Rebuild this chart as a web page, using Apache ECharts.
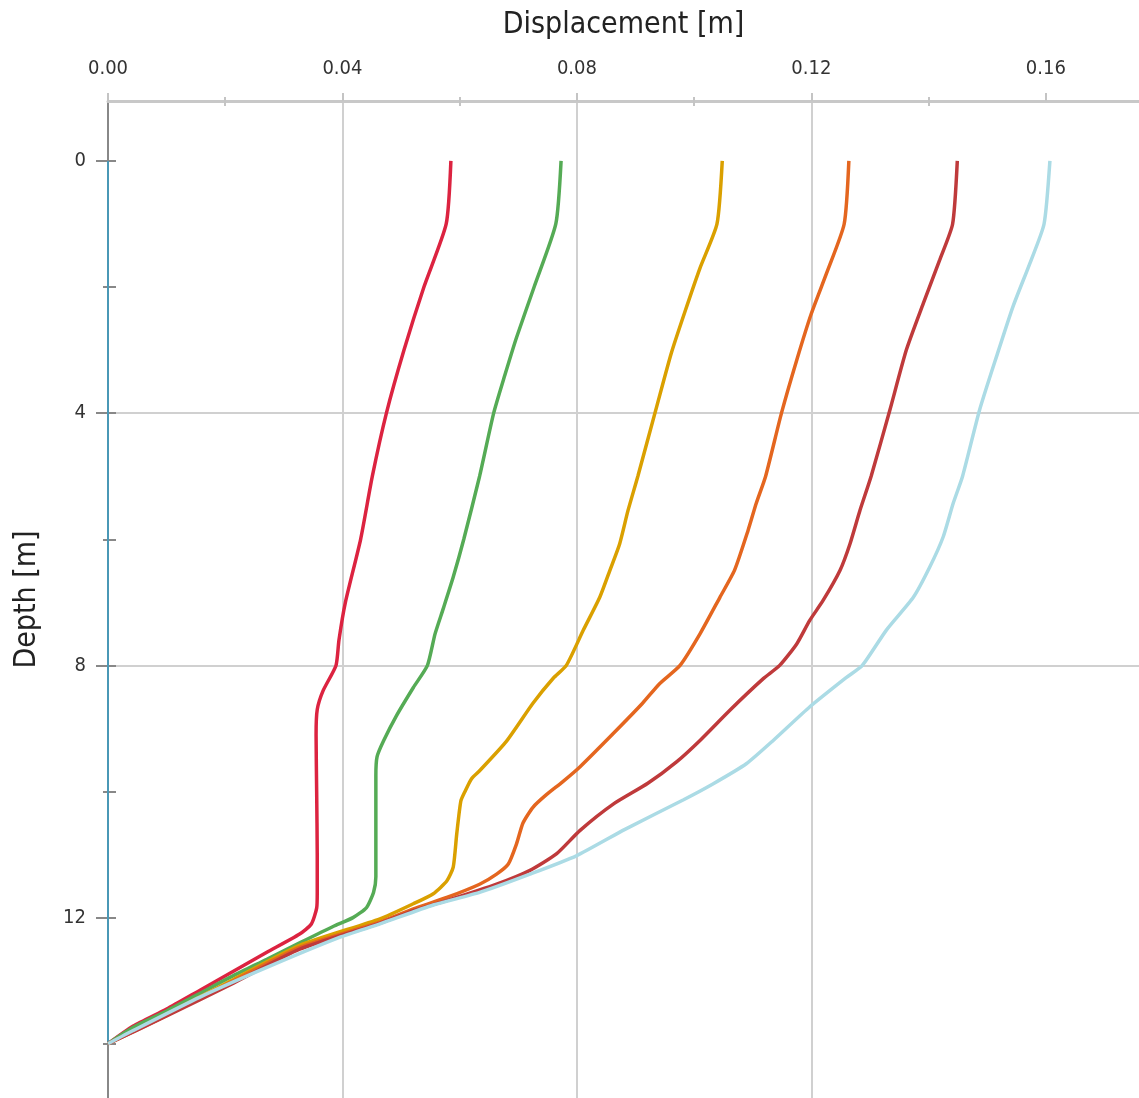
<!DOCTYPE html>
<html>
<head>
<meta charset="utf-8">
<script src="https://cdn.jsdelivr.net/npm/echarts@6/dist/echarts.min.js"></script>
<style>
  html, body { margin: 0; padding: 0; background: #fff; }
  #chart { width: 1139px; height: 1098px; }
</style>
</head>
<body>
<div id="chart"></div>
<script>
// tick positions
var xMajorTicks = [0, 0.04, 0.08, 0.12, 0.16];
var xMinorTicks = [0.02, 0.06, 0.10, 0.14];
var yMajorTicks = [0, 4, 8, 12];
var yMinorTicks = [2, 6, 10, 14];

// reference line at zero displacement
var baseDepth = [0, 14];
var baseDisp = [0, 0];

// stage 1 (red)
var depth1 = [0, 1, 2, 3, 4, 5, 6, 7, 7.6, 8, 8.4, 8.7, 9.1, 10, 11, 11.6, 11.85, 12.1, 12.26, 12.55, 12.85, 13.15, 13.45, 13.72, 14];
var disp1 = [0.0585, 0.0577, 0.0539, 0.0505, 0.0475, 0.0451, 0.0431, 0.0405, 0.0394, 0.0389, 0.0367, 0.0357, 0.0355, 0.0356, 0.0357, 0.0357, 0.0356, 0.0347, 0.0327, 0.0271, 0.0214, 0.0157, 0.0100, 0.0043, 0];

// stage 2 (green)
var depth2 = [0, 1, 2, 2.8, 3.4, 4, 5, 6, 6.6, 7.1, 7.5, 8, 8.35, 8.8, 9.2, 9.45, 9.75, 10.2, 11.35, 11.6, 11.84, 12.0, 12.14, 12.4, 12.66, 12.92, 13.2, 13.48, 13.74, 14];
var disp2 = [0.0773, 0.0764, 0.0727, 0.0697, 0.0677, 0.0658, 0.0634, 0.0607, 0.0589, 0.0572, 0.0558, 0.0545, 0.0521, 0.0492, 0.0470, 0.0459, 0.0457, 0.0457, 0.0457, 0.0453, 0.0441, 0.0418, 0.0384, 0.0327, 0.0271, 0.0214, 0.0157, 0.0100, 0.0043, 0];

// stage 3 (gold)
var depth3 = [0, 1, 1.7, 2.4, 3.05, 3.9, 5, 5.55, 6.07, 6.5, 6.92, 7.44, 8, 8.2, 8.6, 9.2, 9.67, 9.8, 10, 10.15, 10.67, 11.2, 11.42, 11.62, 11.78, 12.02, 12.44, 12.98, 13.53, 14];
var disp3 = [0.1048, 0.1039, 0.1010, 0.0984, 0.0961, 0.0936, 0.0904, 0.0887, 0.0873, 0.0856, 0.0839, 0.0811, 0.0782, 0.0760, 0.0725, 0.0680, 0.0634, 0.0620, 0.0609, 0.0602, 0.0595, 0.0589, 0.0578, 0.0555, 0.0521, 0.0464, 0.0327, 0.0214, 0.0100, 0];

// stage 4 (orange)
var depth4 = [0, 1, 1.78, 2.42, 3.16, 4, 5, 5.43, 5.86, 6.49, 6.92, 7.5, 8, 8.29, 8.6, 9.08, 9.61, 9.85, 10.05, 10.25, 10.5, 10.83, 11.15, 11.31, 11.47, 11.68, 11.86, 12.07, 12.47, 13.0, 13.55, 14];
var disp4 = [0.1264, 0.1256, 0.1226, 0.1200, 0.1175, 0.1149, 0.1122, 0.1106, 0.1092, 0.1069, 0.1044, 0.1010, 0.0976, 0.0941, 0.0912, 0.0862, 0.0805, 0.0775, 0.0748, 0.0725, 0.0708, 0.0697, 0.0683, 0.0663, 0.0634, 0.0578, 0.0521, 0.0464, 0.0327, 0.0214, 0.0100, 0];

// stage 5 (dark red)
var depth5 = [0, 1, 1.57, 2.26, 3, 3.95, 5, 5.54, 6.07, 6.49, 6.97, 7.29, 7.66, 8, 8.21, 8.71, 9.19, 9.53, 9.87, 10.2, 10.62, 10.99, 11.25, 11.47, 11.73, 11.89, 12.09, 12.5, 13.04, 13.56, 14];
var disp5 = [0.1449, 0.1441, 0.1419, 0.1391, 0.1362, 0.1334, 0.1302, 0.1283, 0.1266, 0.1249, 0.1220, 0.1197, 0.1175, 0.1146, 0.1118, 0.1061, 0.1010, 0.0970, 0.0921, 0.0862, 0.0805, 0.0765, 0.0720, 0.0663, 0.0578, 0.0521, 0.0464, 0.0327, 0.0214, 0.0100, 0];

// stage 6 (light blue)
var depth6 = [0, 1, 1.62, 2.31, 3.1, 3.95, 5, 5.43, 5.96, 6.44, 6.92, 7.44, 8, 8.19, 8.66, 9.19, 9.56, 9.88, 10.13, 10.6, 11.02, 11.31, 11.6, 11.8, 12.1, 12.31, 12.79, 13.26, 13.79, 14];
var disp6 = [0.1607, 0.1597, 0.1573, 0.1544, 0.1516, 0.1487, 0.1458, 0.1442, 0.1425, 0.1402, 0.1374, 0.1328, 0.1287, 0.1260, 0.1197, 0.1135, 0.1089, 0.1032, 0.0982, 0.0882, 0.0799, 0.0720, 0.0634, 0.0555, 0.0464, 0.0396, 0.0271, 0.0157, 0.0043, 0];

var FONT = "'DejaVu Sans Condensed', 'DejaVu Sans'";

function pairs(disp, depth) {
  return depth.map(function (d, i) { return [disp[i], d]; });
}

function curve(name, disp, depth, color, width) {
  return {
    name: name,
    type: "line",
    data: pairs(disp, depth),
    showSymbol: false,
    smooth: 0.2,
    lineStyle: { color: color, width: width || 3.5 },
    itemStyle: { color: color },
    z: 3
  };
}

var X_MIN = 0, X_MAX = 0.1759;
var Y_MIN = -0.95, Y_MAX = 14.86;

// invisible overlay axes only used for the extra tick marks
function tickAxisX(values, inside, len) {
  return {
    type: "value", position: "top", min: X_MIN, max: X_MAX,
    axisLine: { show: false, onZero: false }, axisLabel: { show: false }, splitLine: { show: false },
    axisTick: { show: true, inside: inside, length: len, customValues: values,
      lineStyle: { color: "#c4c4c4", width: 2 } }
  };
}
function tickAxisY(values, inside, len) {
  return {
    type: "value", position: "left", inverse: true, min: Y_MIN, max: Y_MAX,
    axisLine: { show: false, onZero: false }, axisLabel: { show: false }, splitLine: { show: false },
    axisTick: { show: true, inside: inside, length: len, customValues: values,
      lineStyle: { color: "#888", width: 2 } }
  };
}

var myChart = echarts.init(document.getElementById("chart"));

var option = {
  animation: false,
  backgroundColor: "#fff",
  grid: { left: 108, right: 0, top: 101, bottom: 0, containLabel: false, outerBoundsMode: "none" },
  xAxis: [
    {
      type: "value",
      position: "top",
      min: X_MIN,
      max: X_MAX,
      interval: 0.04,
      name: "Displacement [m]",
      nameLocation: "middle",
      nameGap: 61,
      nameTextStyle: { fontFamily: FONT, fontSize: 30, color: "#222" },
      axisLine: { show: true, onZero: false, lineStyle: { color: "#c8c8c8", width: 3 } },
      axisTick: { show: true, length: 8, customValues: xMajorTicks,
        lineStyle: { color: "#c4c4c4", width: 2 } },
      axisLabel: {
        customValues: xMajorTicks,
        margin: 22,
        fontFamily: FONT, fontSize: 20, color: "#333",
        formatter: function (v) { return v.toFixed(2); }
      },
      splitLine: { show: true, showMinLine: true, showMaxLine: false,
        lineStyle: { color: "#d0d0d0", width: 2 } }
    },
    tickAxisX(xMinorTicks, false, 4),
    tickAxisX(xMinorTicks, true, 5)
  ],
  yAxis: [
    {
      type: "value",
      position: "left",
      inverse: true,
      min: Y_MIN,
      max: Y_MAX,
      minInterval: 4,
      maxInterval: 4,
      name: "Depth [m]",
      nameLocation: "middle",
      nameGap: 66,
      nameTextStyle: { fontFamily: FONT, fontSize: 30, color: "#222" },
      axisLine: { show: true, onZero: false, lineStyle: { color: "#888", width: 2 } },
      axisTick: { show: true, length: 12, customValues: yMajorTicks,
        lineStyle: { color: "#888", width: 2 } },
      axisLabel: {
        customValues: yMajorTicks,
        margin: 22,
        fontFamily: FONT, fontSize: 20, color: "#333"
      },
      splitLine: { show: true, showMinLine: false, showMaxLine: false,
        lineStyle: { color: "#d0d0d0", width: 2 } }
    },
    tickAxisY(yMinorTicks, false, 5),
    tickAxisY(yMajorTicks.concat(yMinorTicks), true, 8)
  ],
  series: [
    curve("Base", baseDisp, baseDepth, "#4a98b6", 2),
    curve("Stage 1", disp1, depth1, "#dc2340"),
    curve("Stage 2", disp2, depth2, "#55ab55"),
    curve("Stage 3", disp3, depth3, "#daa000"),
    curve("Stage 4", disp4, depth4, "#e4661f"),
    curve("Stage 5", disp5, depth5, "#bf3a3b"),
    curve("Stage 6", disp6, depth6, "#abdbe5", 3.5)
  ]
};

myChart.setOption(option);
</script>
</body>
</html>
